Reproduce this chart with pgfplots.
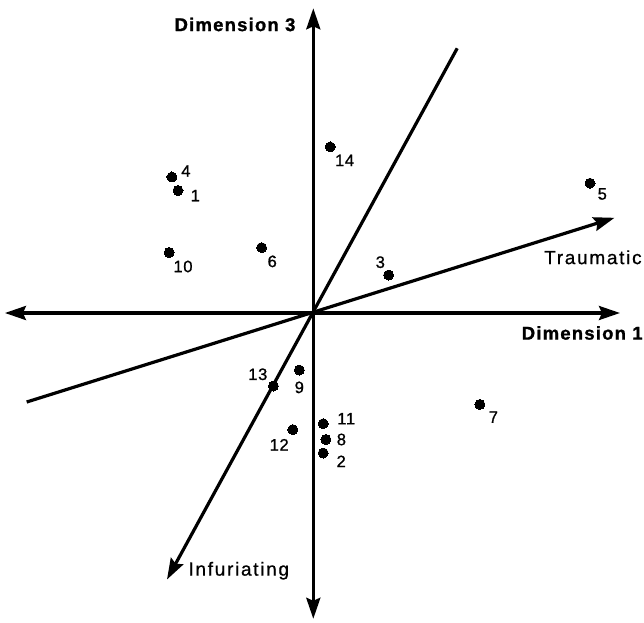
\documentclass[border=0pt]{standalone}
\usepackage{fontspec}
\setmainfont{Liberation Sans}
\newfontfamily\numfont[LetterSpace=4, FakeBold=1]{Liberation Sans}
\newfontfamily\wordfont[LetterSpace=9, FakeBold=0.8]{Liberation Sans}
\newfontfamily\dimfont[LetterSpace=6.5, FakeBold=1.2]{Liberation Sans}
\usepackage{pgfplots}
\pgfplotsset{compat=1.18}
\usetikzlibrary{arrows.meta}
\tikzset{tip/.tip={Stealth[length=21pt,width=14pt,inset=3pt]}}

% Stimulus configuration: positions on dimensions 1 and 3
\pgfplotstableread{
x      y      lab dx    dy
-135.3 122.5  1   17.3  -5.1
9.9    -140.0 2   18.0  -8.4
75.3   38.0   3   -8.3  12.8
-141.4 136.0  4   14.0  6.0
276.7  129.8  5   12.3  -10.8
-51.7  65.4   6   10.6  -13.8
166.6  -91.4  7   13.5  -12.7
12.6   -126.5 8   15.5  0.0
-14.0  -57.0  9   0.0   -17.4
-144.1 60.5   10  13.8  -14.0
9.9    -110.7 11  23.0  5.0
-20.5  -116.6 12  -13.6 -15.2
-39.9  -73.0  13  -15.6 11.7
16.9   166.1  14  14.4  -13.5
}\stimuli

\begin{document}
\begin{tikzpicture}
\begin{axis}[
  width=644pt, height=622pt, scale only axis,
  xmin=-313.3, xmax=330.7, ymin=-309, ymax=313,
  hide axis, clip=false,
  every axis plot/.append style={line width=3.2pt, black},
]
% coordinate axes
\addplot[tip-tip] coordinates {(-308.4,0) (306.7,0)};
\addplot[tip-tip] coordinates {(0,-305.8) (0,304.7)};
% property vectors
\addplot[-tip] coordinates {(143.9,264.7) (-146.3,-266.5)};
\addplot[-tip] coordinates {(-286.6,-89.0) (301.2,95.2)};
% stimuli
\addplot[only marks, mark=*, mark size=5pt, line width=0pt,
  nodes near coords, point meta=explicit symbolic,
  visualization depends on={\thisrow{dx}\as\dx},
  visualization depends on={\thisrow{dy}\as\dy},
  nodes near coords style={anchor=center, inner sep=0pt,
    xshift=\dx pt, yshift=\dy pt,
    font=\numfont\fontsize{16.5}{19}\selectfont}]
  table[x=x, y=y, meta=lab] {\stimuli};
\node[font=\dimfont\bfseries\fontsize{18.5}{21}\selectfont, anchor=center]
  at (axis cs:-78.3,288.5) {Dimension 3};
\node[font=\dimfont\bfseries\fontsize{18.5}{21}\selectfont, anchor=east, inner sep=0pt]
  at (axis cs:329.5,-20) {Dimension 1};
\node[font=\wordfont\fontsize{19}{22}\selectfont, anchor=west, inner sep=0pt]
  at (axis cs:230.7,55.7) {Traumatic};
\node[font=\wordfont\fontsize{19}{22}\selectfont, anchor=west, inner sep=0pt]
  at (axis cs:-125,-257.7) {Infuriating};
\end{axis}
\pgfresetboundingbox
\path (current axis.south west) rectangle (current axis.north east);
\end{tikzpicture}
\end{document}
